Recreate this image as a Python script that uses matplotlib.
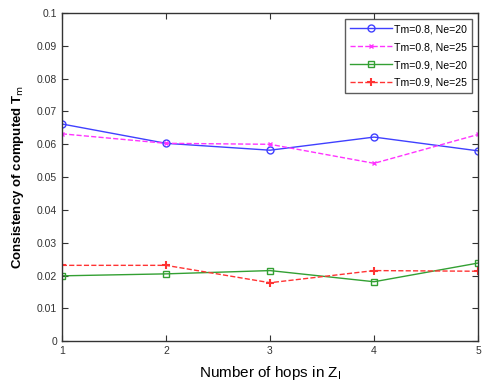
import matplotlib
matplotlib.use("Agg")
import matplotlib.pyplot as plt

hops = [1, 2, 3, 4, 5]
tm08_ne20 = [0.0662, 0.0603, 0.0582, 0.0622, 0.0580]
tm08_ne25 = [0.0632, 0.0603, 0.0600, 0.0542, 0.0630]
tm09_ne20 = [0.0199, 0.0205, 0.0215, 0.0181, 0.0238]
tm09_ne25 = [0.0231, 0.0231, 0.0178, 0.0215, 0.0213]
labels = ["Tm=0.8, Ne=20", "Tm=0.8, Ne=25", "Tm=0.9, Ne=20", "Tm=0.9, Ne=25"]
yticks = [0, 0.01, 0.02, 0.03, 0.04, 0.05, 0.06, 0.07, 0.08, 0.09, 0.1]
yticklabels = ["0", "0.01", "0.02", "0.03", "0.04", "0.05", "0.06", "0.07", "0.08", "0.09", "0.1"]

plt.rcParams['font.family'] = ['Liberation Sans', 'DejaVu Sans']

fig = plt.figure(figsize=(4.83, 3.85), dpi=100)
ax = fig.add_axes([0.128, 0.114, 0.862, 0.852])

ax.plot(hops, tm08_ne20, '-', color='#4040ff', marker='o', mfc='none', ms=5, lw=1.0, label=labels[0])
ax.plot(hops, tm08_ne25, '--', color='#ff33ff', marker='x', ms=3.5, lw=1.0, label=labels[1])
ax.plot(hops, tm09_ne20, '-', color='#33a033', marker='s', mfc='none', ms=5, lw=1.0, label=labels[2])
ax.plot(hops, tm09_ne25, '--', color='#ff3333', marker='+', ms=5.5, mew=1.5, lw=1.0, label=labels[3])

ax.set_xlim(1, 5)
ax.set_ylim(0, 0.1)
ax.set_xticks(hops)
ax.set_yticks(yticks)
ax.set_yticklabels(yticklabels)
ax.tick_params(direction='in', top=True, right=True, labelsize=7.5, length=4, colors='#333333')
for s in ax.spines.values():
    s.set_color('#333333')
    s.set_linewidth(1.0)

ax.set_xlabel(r'Number of hops in Z$_\mathrm{l}$', fontsize=11, labelpad=6)
ax.set_ylabel(r'Consistency of computed T$_\mathrm{m}$', fontsize=9.5, fontweight='bold', labelpad=8)

leg = ax.legend(loc='upper right', fontsize=7.6, frameon=True, fancybox=False, edgecolor='#333333',
                handlelength=4.0, borderaxespad=0.6, labelspacing=0.75, handletextpad=0.2, borderpad=0.45)
leg.get_frame().set_linewidth(1.0)

fig.savefig('out.png', dpi=100, facecolor='white')
